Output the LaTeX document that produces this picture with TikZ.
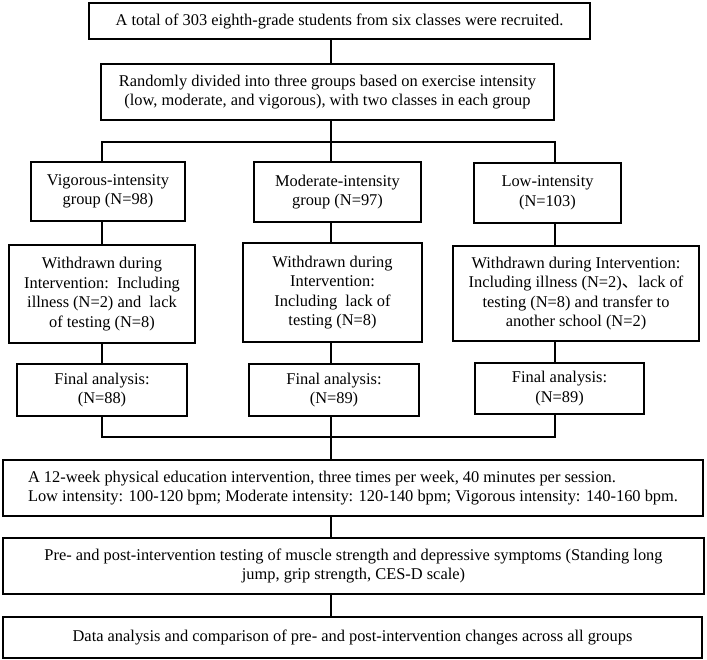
\documentclass[tikz,border=0pt]{standalone}
\usepackage{fontspec}
\setmainfont{Liberation Serif}
\newfontfamily\cjk{Noto Sans CJK SC}
\usepackage{tikz}

\begin{document}
\begin{tikzpicture}[x=0.75pt, y=-0.75pt,
			box/.style={draw=black, line width=1.2pt, inner sep=0pt, align=center, font=\fontsize{12.3}{14.6}\selectfont},
			link/.style={line width=0.9pt}]
			\useasboundingbox (0,0) rectangle (707,660);
			\coordinate (lc) at (102,0);
			\coordinate (sp) at (331,0);
			\coordinate (rc) at (555,0);
			\coordinate (tb) at (0,142);
			\coordinate (bb) at (0,437);
			\node[box, minimum width=501*0.75pt, minimum height=36*0.75pt](rec) at (339.5,21){A total of 303 eighth-grade students from six classes were recruited.};
			\node[box, minimum width=453*0.75pt, minimum height=56*0.75pt](rand) at (327.5,92){Randomly divided into three groups based on exercise intensity\\(low, moderate, and vigorous), with two classes in each group};
			\node[box, minimum width=154*0.75pt, minimum height=59*0.75pt](vig) at (108,191.5){Vigorous-intensity\\group (N=98)};
			\node[box, minimum width=167*0.75pt, minimum height=60*0.75pt](mod) at (337.5,192){Moderate-intensity\\group (N=97)};
			\node[box, minimum width=147*0.75pt, minimum height=60*0.75pt](low) at (547.5,193){Low-intensity\\(N=103)};
			\node[box, minimum width=186*0.75pt, minimum height=98*0.75pt](wv) at (102,294){Withdrawn during\\Intervention:\ \ Including\\illness (N=2) and\ \ lack\\of testing (N=8)};
			\node[box, minimum width=179*0.75pt, minimum height=99*0.75pt](wm) at (332.5,292.5){Withdrawn during\\Intervention:\\Including\ \ lack of\\testing (N=8)};
			\node[box, minimum width=246*0.75pt, minimum height=95*0.75pt](wl) at (576,293.5){Withdrawn during Intervention:\\Including illness (N=2){\cjk 、}lack of\\testing (N=8) and transfer to\\another school (N=2)};
			\node[box, minimum width=170*0.75pt, minimum height=52*0.75pt](fv) at (102,390){Final analysis:\\(N=88)};
			\node[box, minimum width=170*0.75pt, minimum height=52*0.75pt](fm) at (334,390){Final analysis:\\(N=89)};
			\node[box, minimum width=169*0.75pt, minimum height=51*0.75pt](fl) at (559.5,388.5){Final analysis:\\(N=89)};
			\node[box, minimum width=700*0.75pt, minimum height=56*0.75pt, align=left](pe) at (353,488){A 12-week physical education intervention, three times per week, 40 minutes per session.\\Low intensity: 100-120 bpm; Moderate intensity: 120-140 bpm; Vigorous intensity: 140-160 bpm.};
			\node[box, minimum width=701*0.75pt, minimum height=56*0.75pt](test) at (353.5,566){Pre- and post-intervention testing of muscle strength and depressive symptoms (Standing long\\jump, grip strength, CES-D scale)};
			\node[box, minimum width=699*0.75pt, minimum height=41*0.75pt](ana) at (352.5,637.5){Data analysis and comparison of pre- and post-intervention changes across all groups};
			% upper part
			\draw[link] (rec.south -| sp) -- (rand.north -| sp);
			\draw[link] (rand.south -| sp) -- (sp |- tb);
			\draw[link] (vig.north -| lc) -- (lc |- tb) -- (rc |- tb) -- (low.north -| rc);
			\draw[link] (sp |- tb) -- (mod.north -| sp);
			\draw[link] (vig.south -| lc) -- (wv.north -| lc);
			\draw[link] (mod.south -| sp) -- (wm.north -| sp);
			\draw[link] (low.south -| rc) -- (wl.north -| rc);
			\draw[link] (wv.south -| lc) -- (fv.north -| lc);
			\draw[link] (wm.south -| sp) -- (fm.north -| sp);
			\draw[link] (wl.south -| rc) -- (fl.north -| rc);
			% lower part
			\draw[link] (fv.south -| lc) -- (lc |- bb) -- (rc |- bb) -- (fl.south -| rc);
			\draw[link] (fm.south -| sp) -- (pe.north -| sp);
			\draw[link] (pe.south -| sp) -- (test.north -| sp);
			\draw[link] (test.south -| sp) -- (ana.north -| sp);
\end{tikzpicture}
\end{document}
